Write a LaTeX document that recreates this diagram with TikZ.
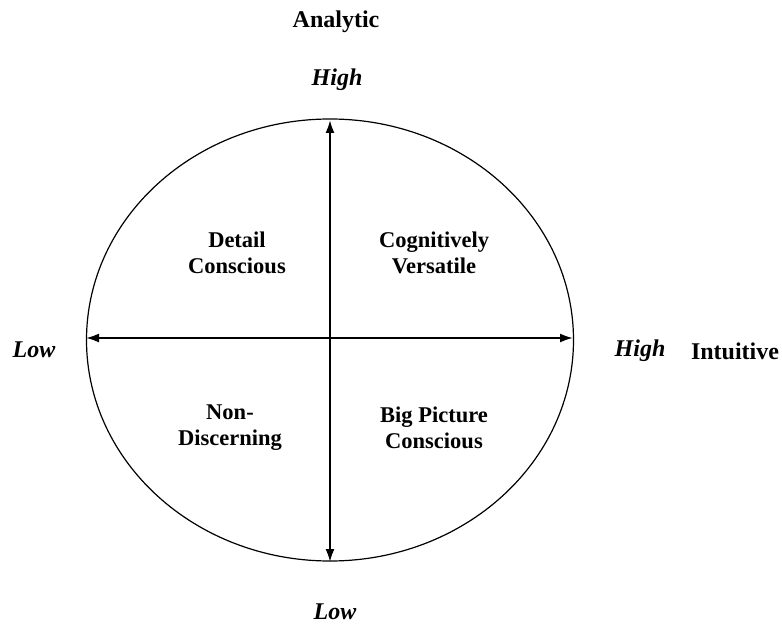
\documentclass[tikz,border=0pt]{standalone}
\usepackage{fontspec}
\setmainfont{Liberation Serif}
\usetikzlibrary{shapes.geometric, arrows.meta}

\begin{document}
\begin{tikzpicture}[x=1pt, y=-1pt,
    axis/.style={line width=2pt, {Latex[length=13pt,width=9pt]}-{Latex[length=13pt,width=9pt]}},
    quad/.style={align=center, font=\fontsize{22.5}{26}\selectfont\bfseries},
    dim/.style={font=\fontsize{24}{26}\selectfont\bfseries},
    level/.style={font=\fontsize{24}{26}\selectfont\bfseries\itshape}]
    \useasboundingbox (0, 0) rectangle (782, 628);
    % oval
    \node [draw, ellipse, line width=1.2pt, inner sep=0pt,
           minimum width=487pt, minimum height=442pt] (oval) at (330, 340) {};
    \coordinate (top)   at (330, 120);
    \coordinate (bot)   at (330, 562);
    \coordinate (left)  at (86, 338);
    \coordinate (right) at (573, 338);
    \draw [axis] (top) -- (bot);
    \draw [axis] (left) -- (right);
    % dimensions
    \node [dim]   (analytic)  at (336, 22)  {Analytic};
    \node [dim]   (intuitive) at (735, 351) {Intuitive};
    % levels
    \node [level] (vhigh) at (337, 80)  {High};
    \node [level] (vlow)  at (335, 612) {Low};
    \node [level] (hlow)  at (34, 350)  {Low};
    \node [level] (hhigh) at (640, 351) {High};
    % quadrants
    \node [quad] (detail)    at (237, 253) {Detail\\Conscious};
    \node [quad] (versatile) at (434, 253) {Cognitively\\Versatile};
    \node [quad] (nondisc)   at (230, 428) {Non-\\Discerning};
    \node [quad] (bigpic)    at (434, 428) {Big Picture\\Conscious};
\end{tikzpicture}
\end{document}
